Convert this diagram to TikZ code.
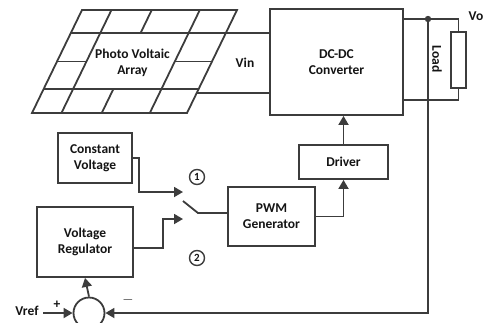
\documentclass[tikz,border=0pt]{standalone}
\usepackage{fontspec}
\setmainfont{Carlito}
\usetikzlibrary{arrows.meta}
\definecolor{wirecol}{HTML}{3C3C3C}
\definecolor{txtcol}{HTML}{141414}
\tikzset{
  conn/.style={draw=wirecol, line width=1.8pt},
  flow/.style={conn, -{Triangle[length=9pt,width=10pt]}},
  blk/.style={conn, align=center, inner sep=0pt, text=txtcol,
    font=\bfseries\fontsize{13.5}{16}\selectfont},
  lbl/.style={text=txtcol, font=\bfseries\fontsize{13.5}{16}\selectfont},
  num/.style={draw=wirecol, line width=1.4pt, circle, minimum size=15pt,
    inner sep=0pt, text=txtcol, font=\bfseries\fontsize{11}{11}\selectfont}
}
\begin{document}
\begin{tikzpicture}[x=1pt, y=-1pt]
  \useasboundingbox (0,0) rectangle (486,322);
  % solar panel grid
  \begin{scope}[shift={(32,113)}, x={(155pt,0pt)}, y={(50pt,103pt)}]
    \draw[conn] (0,0) -- (1,0) -- (1,1) -- (0,1) -- cycle;
    \foreach \v in {0.233,0.78}
      \draw[conn] (0,\v) -- (1,\v);
    \foreach \u in {0.19,0.76}
      \draw[conn] (\u,0) -- (\u,1);
    \draw[conn] (0.45,0) -- (0.45,0.233) (0.45,0.78) -- (0.45,1);
    \draw[conn] (0,0.5) -- (0.19,0.5) (0.76,0.5) -- (1,0.5);
    \node[lbl, align=center] (pv) at (0.49,0.49) {Photo Voltaic\\Array};
    \coordinate (pvA) at (1,0.78);
    \coordinate (pvB) at (1,0.194);
  \end{scope}

  \node[blk, minimum width=133pt, minimum height=106pt] (conv) at (336.5,62) {DC-DC\\Converter};
  \node[blk, minimum width=89pt, minimum height=34pt] (drv) at (343.5,162) {Driver};
  \node[blk, minimum width=87pt, minimum height=59pt] (pwm) at (271.5,216.5) {PWM\\Generator};
  \node[blk, minimum width=74pt, minimum height=50pt] (cv) at (95,158) {Constant\\Voltage};
  \node[blk, minimum width=96pt, minimum height=70pt] (vr) at (85,242) {Voltage\\Regulator};
  \node[conn, circle, minimum size=31pt, inner sep=0pt] (sum) at (89,313) {};
  \node[conn, minimum width=15pt, minimum height=56pt, inner sep=0pt] (load) at (458.5,60) {};

  \node[lbl] (vin) at (245,63) {Vin};
  \node[lbl] (vo) at (476,16) {Vo};
  \node[lbl, rotate=-90] (ldtxt) at (437,59) {Load};
  \node[lbl] (vreftxt) at (27,311) {Vref};
  \node[lbl] (plus) at (57,305) {+};
  \node[lbl] (minus) at (128,300) {$-$};
  \node[num] (one) at (197,177) {1};
  \node[num] (two) at (197,258) {2};

  % power path
  \draw[conn] (pvA) -- (pvA -| conv.west);
  \draw[conn] (pvB) -- (pvB -| conv.west);
  \coordinate (tap) at (428,19);
  \coordinate (votop) at (458.5,19);
  \coordinate (vobot) at (458.5,100);
  \draw[conn] (conv.east |- votop) -- (votop) -- (load.north);
  \draw[conn] (load.south) -- (vobot) -- (conv.east |- vobot);
  \fill[wirecol] (tap) circle (3.2pt);

  % control path
  \coordinate (vref) at (43,313);
  \coordinate (in1) at (183,192);
  \coordinate (in2) at (183,219);
  \coordinate (swa) at (183,201);
  \coordinate (swb) at (198,213);
  \draw[flow] (tap) -- (tap |- sum) -- (sum.east);
  \draw[flow] (vref) -- (sum.west);
  \draw[flow] (sum.north) -- (vr.south);
  \draw[flow] (cv.east) -- ++(6,0) |- (in1);
  \draw[flow] ([yshift=-6pt]vr.east) -- ++(29,0) |- (in2);
  \draw[conn] (swa) -- (swb) -- (swb -| pwm.west);
  \draw[flow] (pwm.east) -- (drv.south |- pwm.east) -- (drv.south);
  \draw[flow] (drv.north) -- (drv.north |- conv.south);
\end{tikzpicture}
\end{document}
